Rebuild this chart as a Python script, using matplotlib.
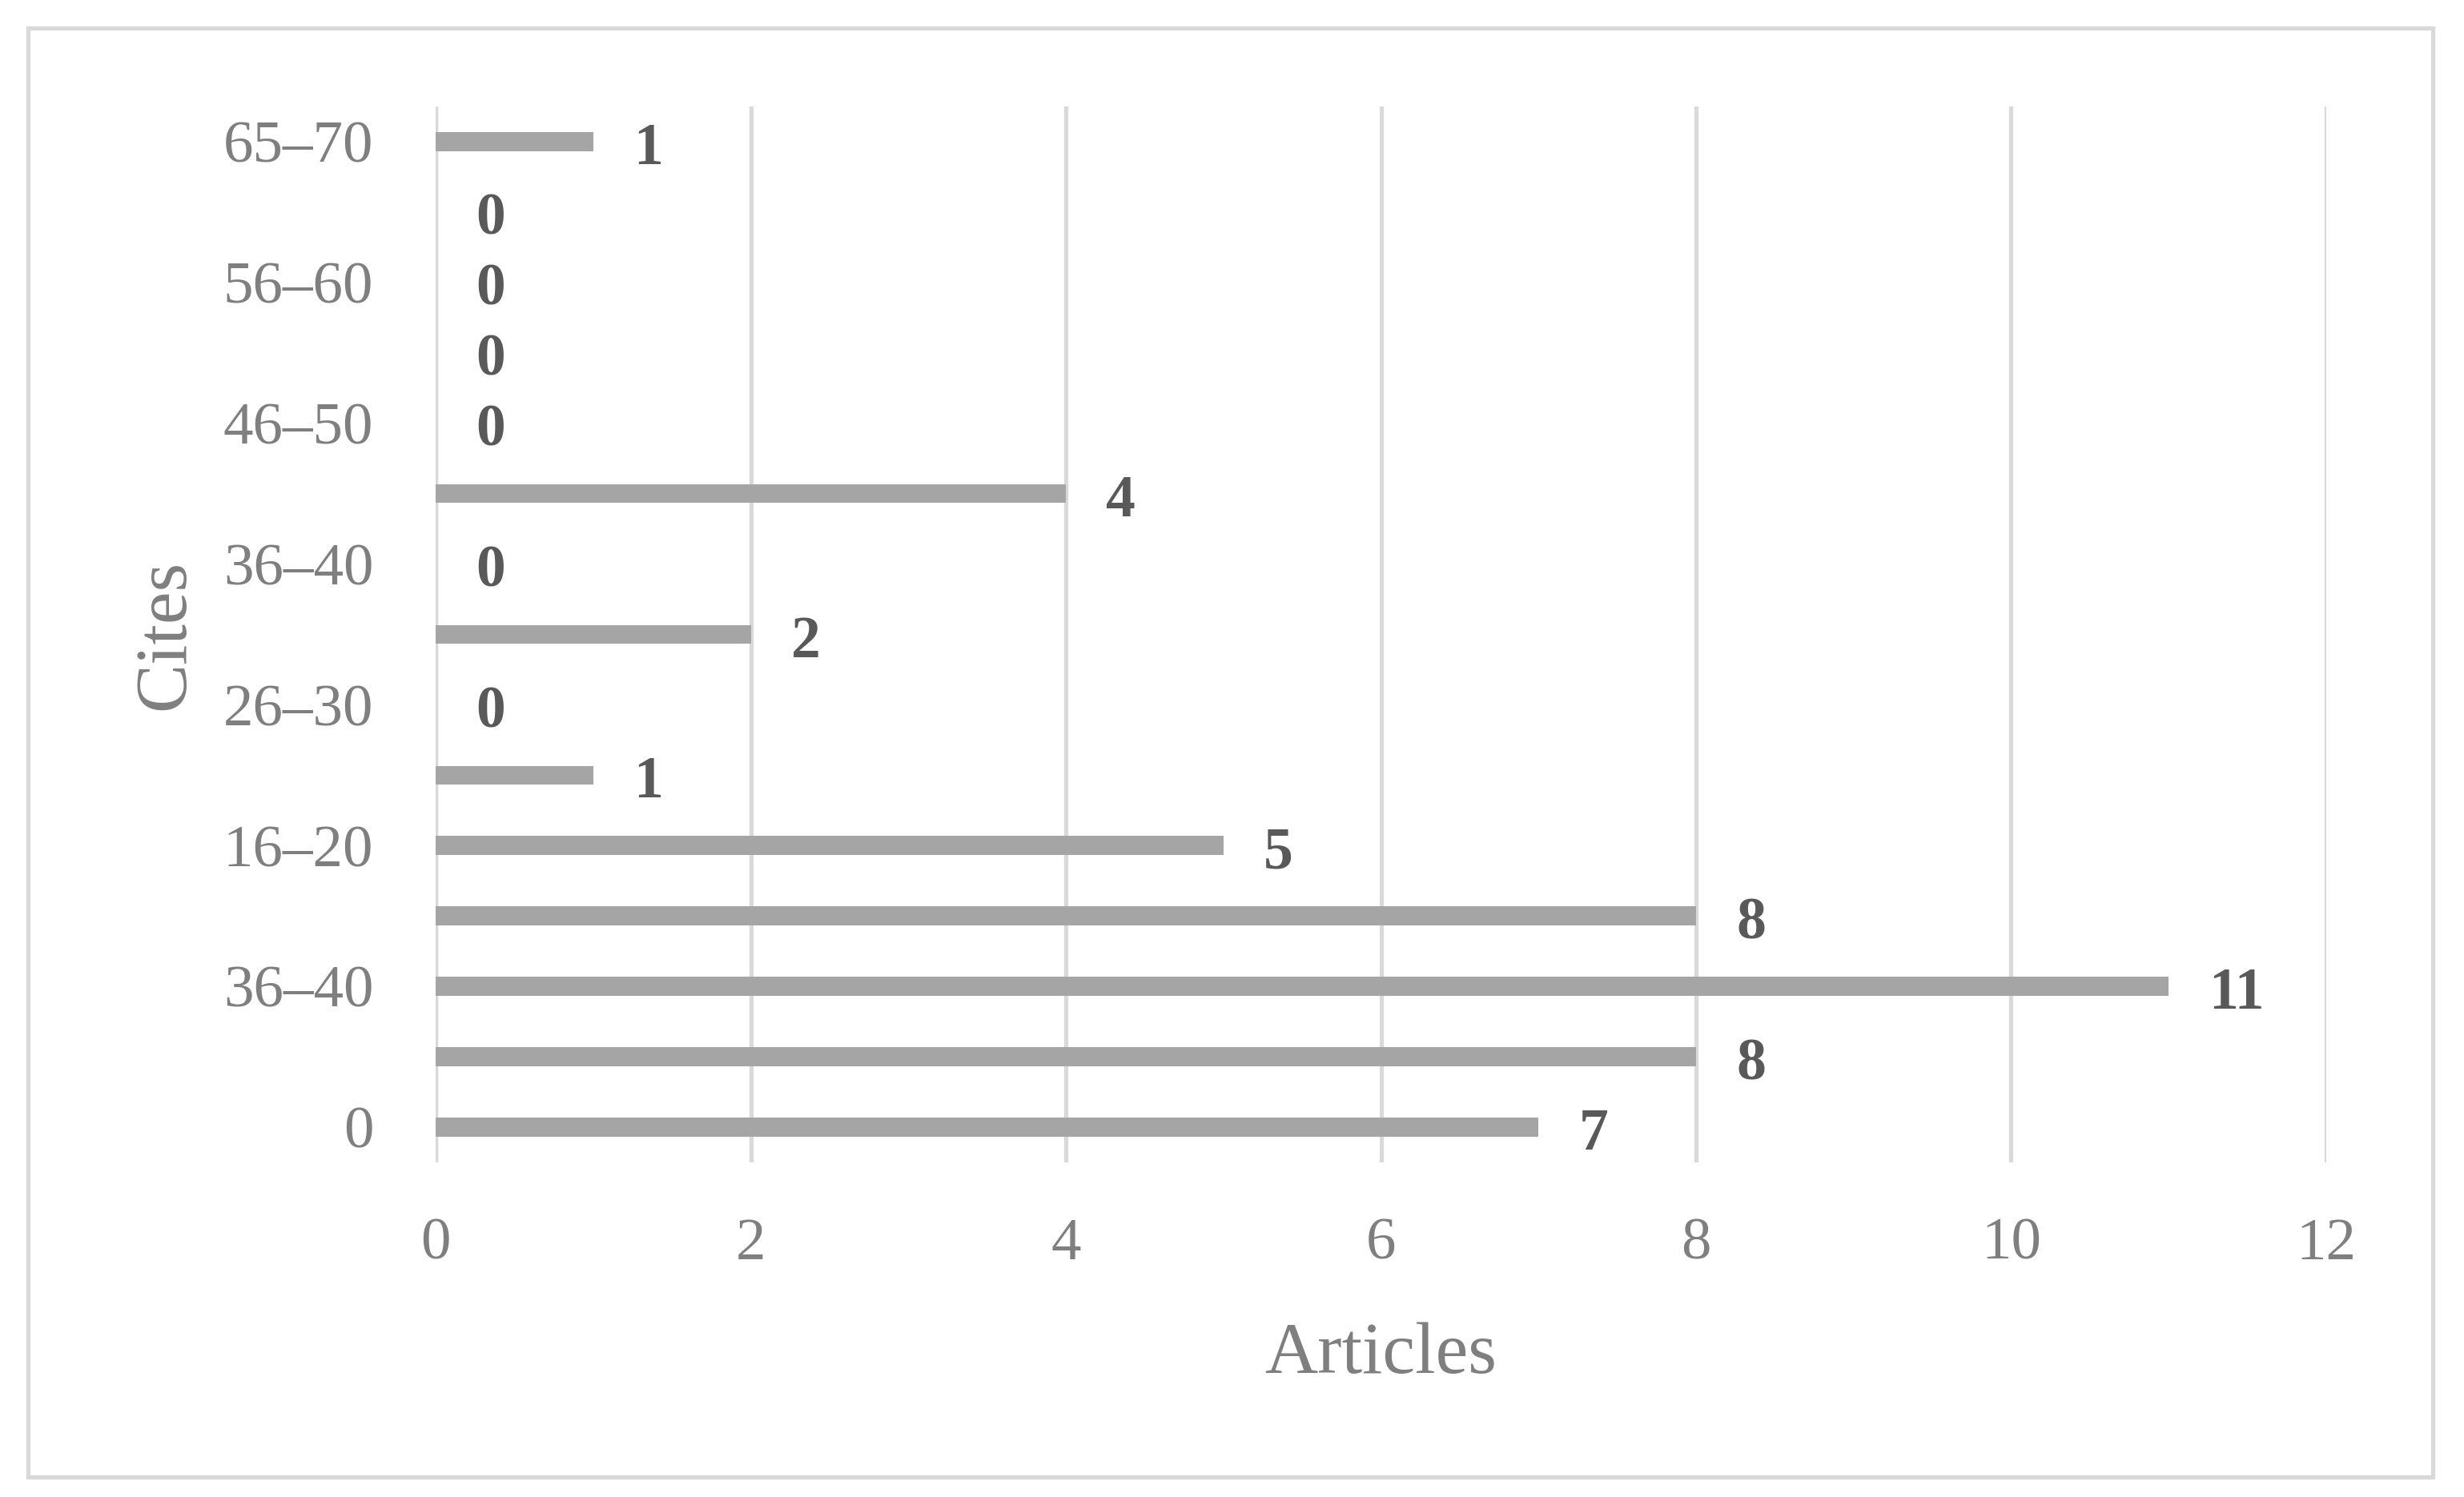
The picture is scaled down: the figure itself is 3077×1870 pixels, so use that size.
import matplotlib
matplotlib.use("Agg")
import matplotlib.pyplot as plt
from matplotlib.patches import Rectangle

categories = ["0", "1–5", "36–40", "11–15", "16–20", "21–25", "26–30", "31–35",
              "36–40", "41–45", "46–50", "51–55", "56–60", "61–65", "65–70"]
articles = [7, 8, 11, 8, 5, 1, 0, 2, 0, 4, 0, 0, 0, 0, 1]
x_ticks = [0, 2, 4, 6, 8, 10, 12]

plt.rcParams['font.family'] = ['Liberation Serif', 'DejaVu Serif']

fig = plt.figure(figsize=(30.77, 18.70), dpi=100)
ax = fig.add_axes([0.1768, 0.2235, 0.9441 - 0.1768, 0.9289 - 0.2235])

pos = list(range(len(categories)))
ax.barh(pos, articles, height=0.27, color='#a5a5a5', zorder=3)

for p, v in zip(pos, articles):
    ax.annotate(str(v), xy=(v, p), xytext=(50, -10), textcoords='offset pixels',
                ha='left', va='center', fontsize=53, fontweight='bold',
                color='#595959', zorder=4)

ax.set_xlim(0, 12)
ax.set_ylim(-0.5, 14.5)
ax.set_xticks(x_ticks)
ax.set_xticklabels([str(t) for t in x_ticks])
ax.set_yticks(pos[::2])
ax.set_yticklabels(categories[::2])
ax.tick_params(axis='both', length=0, labelsize=54, labelcolor='#7f7f7f')
ax.tick_params(axis='x', pad=50)
ax.tick_params(axis='y', pad=56)

ax.grid(axis='x', color='#d9d9d9', linewidth=3.8, zorder=0)
ax.axvline(0, color='#d9d9d9', linewidth=3.8, zorder=1)
for s in ax.spines.values():
    s.set_visible(False)

ax.set_xlabel('Articles', fontsize=66, color='#7f7f7f', labelpad=45)
ax.set_ylabel('Cites', fontsize=66, color='#7f7f7f', labelpad=22)

fig.patches.append(Rectangle((0.0114, 0.0134), 0.976, 0.968, transform=fig.transFigure,
                             fill=False, edgecolor='#d9d9d9', linewidth=3.8))

fig.savefig('out.png', dpi=100, facecolor='white')
